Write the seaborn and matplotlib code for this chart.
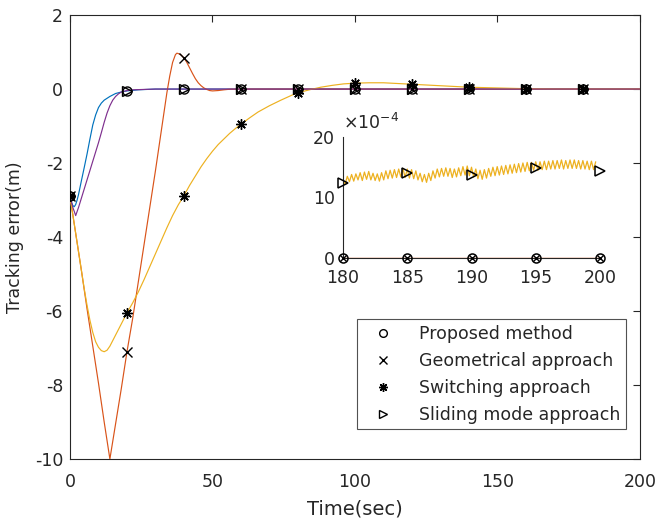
import numpy as np
import pandas as pd
import matplotlib
matplotlib.use("Agg")
import matplotlib.pyplot as plt
import seaborn as sns

# ---- data ----
# proposed method (blue)
t_prop = [0, 0.5, 1, 1.5, 2, 2.5, 3, 4, 5, 6, 7, 8, 9, 10, 11, 12, 14, 16, 18, 20, 24, 30,
          40, 60, 80, 100, 120, 140, 160, 180, 200]
e_prop = [-2.9, -3.05, -3.15, -3.18, -3.12, -3.0, -2.85, -2.48, -2.12, -1.75, -1.35, -0.97, -0.7,
          -0.5, -0.38, -0.3, -0.2, -0.12, -0.08, -0.05, -0.02, 0.0,
          0, 0, 0, 0, 0, 0, 0, 0, 0]
# geometrical approach (red)
t_geo = [0, 2, 4, 6, 8, 10, 12, 14, 16, 18, 20, 22, 24, 26, 28, 30, 32, 34, 35, 36, 37, 37.5, 38,
         39, 40, 41, 42, 43, 44, 45, 46, 47, 48, 49, 50, 52, 54, 56, 60, 80, 100, 120, 140, 160,
         180, 200]
e_geo = [-2.9, -3.9, -4.9, -5.95, -6.95, -7.95, -9.0, -10.0, -9.05, -8.1, -7.1, -6.2, -5.2, -4.2,
         -3.2, -2.2, -1.15, -0.1, 0.35, 0.72, 0.93, 0.97, 0.96, 0.92, 0.84, 0.72, 0.57, 0.42,
         0.28, 0.17, 0.09, 0.03, -0.01, -0.04, -0.05, -0.04, -0.02, -0.005, 0, 0, 0, 0, 0, 0,
         0, 0]
# switching approach (yellow)
t_sw = [0, 1, 2, 3, 4, 5, 6, 7, 8, 9, 10, 11, 12, 13, 14, 15, 16, 18, 20, 22, 24, 26, 28, 30,
        32, 34, 36, 38, 40, 42, 44, 46, 48, 50, 52, 54, 56, 58, 60, 63, 66, 70, 74, 78, 80, 84,
        88, 92, 96, 100, 105, 110, 115, 120, 130, 140, 150, 160, 170, 180, 200]
e_sw = [-2.9, -3.4, -3.9, -4.4, -4.9, -5.4, -5.85, -6.25, -6.58, -6.83, -6.98, -7.07, -7.1,
        -7.06, -6.95, -6.8, -6.65, -6.35, -6.05, -5.78, -5.48, -5.15, -4.8, -4.45, -4.1, -3.75,
        -3.42, -3.13, -2.88, -2.6, -2.35, -2.1, -1.88, -1.68, -1.5, -1.35, -1.2, -1.07, -0.95,
        -0.78, -0.62, -0.45, -0.3, -0.16, -0.1, -0.02, 0.05, 0.1, 0.14, 0.16, 0.17, 0.17, 0.15,
        0.13, 0.09, 0.05, 0.03, 0.01, 0.0, 0.0, 0.0]
# sliding mode approach (purple)
t_sl = [0, 1, 2, 3, 4, 5, 6, 7, 8, 9, 10, 11, 12, 13, 14, 15, 16, 17, 18, 20, 22, 26, 30,
        40, 60, 80, 100, 120, 140, 160, 180, 200]
e_sl = [-2.9, -3.2, -3.42, -3.2, -2.95, -2.7, -2.45, -2.2, -1.95, -1.7, -1.45, -1.18, -0.9,
        -0.65, -0.45, -0.3, -0.2, -0.13, -0.08, -0.04, -0.02, -0.01, 0.0,
        0, 0, 0, 0, 0, 0, 0, 0, 0]

marker_times = [0, 20, 40, 60, 80, 100, 120, 140, 160, 180]

# zoomed window 180-200 s (values in 1e-4 m)
sw_zoom = [12.9, 12.2, 13.5, 12.6, 13.8, 12.7, 13.9, 12.9, 14.1, 12.8, 14.2, 13.0,
           14.3, 12.9, 14.0, 12.8, 13.9, 12.7, 14.1, 12.9, 14.4, 13.1, 14.5, 13.2,
           14.6, 13.3, 14.7, 13.4, 14.8, 13.3, 14.7, 13.2, 14.6, 13.1, 14.4, 12.9,
           14.0, 12.6, 13.8, 12.5, 14.0, 12.8, 14.4, 13.2, 14.7, 13.4, 14.8, 13.5,
           14.9, 13.5, 14.8, 13.3, 14.7, 13.4, 14.9, 13.6, 15.1, 13.7, 15.2, 13.6,
           15.0, 13.4, 14.7, 13.1, 14.5, 13.0, 14.6, 13.2, 14.8, 13.5, 15.0, 13.6,
           15.1, 13.7, 15.2, 13.8, 15.3, 13.9, 15.4, 14.0, 15.5, 14.1, 15.6, 14.2,
           15.7, 14.3, 15.8, 14.4, 15.8, 14.5, 15.9, 14.5, 15.9, 14.6, 16.0, 14.6,
           16.0, 14.7, 16.1, 14.7, 16.1, 14.8, 16.2, 14.7, 16.1, 14.8, 16.2, 14.8,
           16.2, 14.8, 16.1, 14.7, 16.1, 14.7, 16.0, 14.6, 16.0, 14.6, 15.9]
zoom_t = [180, 185, 190, 195, 200]
zoom_zero = [0, 0, 0, 0, 0]
zoom_slide = [12.4, 14.1, 13.7, 14.9, 14.4]

labels = ["Proposed method", "Geometrical approach", "Switching approach", "Sliding mode approach"]
colors = [(0, 0.447, 0.741), (0.85, 0.325, 0.098), (0.929, 0.694, 0.125), (0.494, 0.184, 0.556)]
markers = ["o", "x", (8, 2, 0), ">"]
msizes = [6.5, 6.5, 7.5, 6.5]

# ---- style ----
sns.set_style("white")
plt.rcParams["font.family"] = ["DejaVu Sans"]
plt.rcParams["axes.unicode_minus"] = False
grey = "#262626"

fig = plt.figure(figsize=(6.64, 5.31), dpi=100)
ax = fig.add_axes([0.1054, 0.1356, 0.8584, 0.836])

series = [(t_prop, e_prop), (t_geo, e_geo), (t_sw, e_sw), (t_sl, e_sl)]
for i in range(4):
    df = pd.DataFrame({"t": series[i][0], "e": series[i][1]})
    sns.lineplot(data=df, x="t", y="e", ax=ax, color=colors[i], lw=0.85, estimator=None,
                 sort=False, zorder=2 + i)
for i in range(4):
    df = pd.DataFrame({"t": series[i][0], "e": series[i][1]})
    mk = df[df["t"].isin(marker_times)]
    ax.plot(mk["t"], mk["e"], ls="none", marker=markers[i], ms=msizes[i], mfc="none",
            mec="black", mew=1.0, label=labels[i], zorder=10)

ax.set_xlim(0, 200)
ax.set_ylim(-10, 2)
ax.set_xticks([0, 50, 100, 150, 200])
ax.set_yticks([-10, -8, -6, -4, -2, 0, 2])
ax.tick_params(direction="in", length=5, width=0.8, labelsize=12.5, colors=grey,
               top=True, right=True)
ax.tick_params(axis="x", pad=10)
ax.tick_params(axis="y", pad=5)
for s in ax.spines.values():
    s.set_color(grey)
    s.set_linewidth(0.8)
ax.set_xlabel("Time(sec)", fontsize=14, color=grey, labelpad=6)
ax.set_ylabel("Tracking error(m)", fontsize=12.5, color=grey, labelpad=8)

leg = ax.legend(loc="lower right", bbox_to_anchor=(0.975, 0.0676), fontsize=12.5,
                frameon=True, fancybox=False, borderpad=0.3, labelspacing=0.52,
                handletextpad=0.9, borderaxespad=0, markerscale=0.85, handlelength=2.4)
leg.get_frame().set_edgecolor(grey)
leg.get_frame().set_linewidth(0.8)

# ---- inset ----
axi = fig.add_axes([0.5166, 0.5141, 0.387, 0.228])
axi.patch.set_alpha(0)
dz = pd.DataFrame({"t": 180 + np.arange(len(sw_zoom)) / 6, "e": sw_zoom})
sns.lineplot(data=dz, x="t", y="e", ax=axi, color=colors[2], lw=0.9, estimator=None)
dzero = pd.DataFrame({"t": zoom_t, "e": zoom_zero})
sns.lineplot(data=dzero, x="t", y="e", ax=axi, color=colors[1], lw=1.0, estimator=None)
axi.plot(zoom_t, zoom_zero, ls="none", marker="o", ms=6.5, mfc="none", mec="black", mew=1.1,
         clip_on=False, zorder=10)
axi.plot(zoom_t, zoom_zero, ls="none", marker="x", ms=5, mec="black", mew=1.0,
         clip_on=False, zorder=10)
axi.plot(zoom_t, zoom_slide, ls="none", marker=">", ms=7, mfc="none", mec="black", mew=1.1,
         clip_on=False, zorder=10)
axi.set_xlim(180, 200)
axi.set_ylim(0, 20)
axi.set_xticks([180, 185, 190, 195, 200])
axi.set_yticks([0, 10, 20])
axi.set_xlabel("")
axi.set_ylabel("")
axi.spines["top"].set_visible(False)
axi.spines["right"].set_visible(False)
for s in ["left", "bottom"]:
    axi.spines[s].set_color(grey)
    axi.spines[s].set_linewidth(0.8)
axi.tick_params(direction="in", length=4, width=0.8, labelsize=12.5, colors=grey)
axi.tick_params(axis="x", pad=8)
axi.tick_params(axis="y", pad=6)
axi.text(0.0, 1.03, r"$\times10^{-4}$", transform=axi.transAxes, fontsize=12.5, color=grey,
         ha="left", va="bottom")

fig.savefig("out.png", dpi=100)
